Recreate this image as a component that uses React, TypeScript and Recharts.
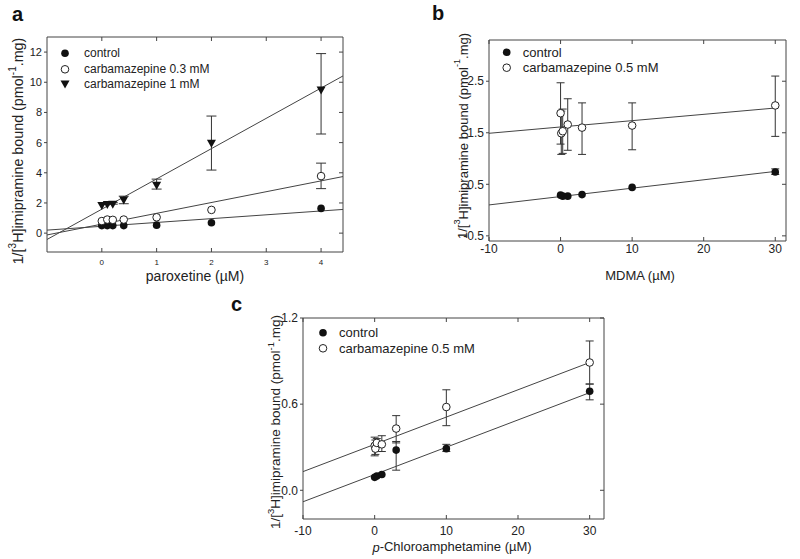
import React from 'react';
import { ScatterChart, Scatter, XAxis, YAxis, ErrorBar } from 'recharts';

// a: paroxetine
const paroxetineDose = [0, 0.1, 0.2, 0.4, 1, 2, 4];
const aControl = [0.5, 0.5, 0.5, 0.5, 0.53, 0.69, 1.64];
const aCbz03 = [0.8, 0.9, 0.88, 0.9, 1.05, 1.54, 3.78];
const aCbz03Low = [0.8, 0.9, 0.88, 0.9, 1.05, 1.54, 2.95];
const aCbz03High = [0.8, 0.9, 0.88, 0.9, 1.05, 1.54, 4.64];
const aCbz1 = [1.84, 1.9, 1.92, 2.19, 3.18, 5.95, 9.49];
const aCbz1Low = [1.84, 1.9, 1.92, 1.95, 2.92, 4.18, 6.57];
const aCbz1High = [1.84, 2.02, 2.04, 2.45, 3.58, 7.76, 11.9];
const aFitX = [-1, 4.4];
const aFitControl = [0.2, 1.57];
const aFitCbz03 = [-0.12, 3.75];
const aFitCbz1 = [-0.42, 10.42];
const aXTicks = [0, 1, 2, 3, 4];
const aYTicks = [0, 2, 4, 6, 8, 10, 12];

// b: MDMA
const mdmaControlDose = [0, 0.3, 1, 3, 10, 30];
const bControl = [0.29, 0.27, 0.27, 0.3, 0.44, 0.74];
const bControlLow = [0.29, 0.27, 0.27, 0.3, 0.44, 0.69];
const bControlHigh = [0.29, 0.27, 0.27, 0.3, 0.44, 0.8];
const mdmaCbzDose = [0, 0.1, 0.3, 1, 3, 10, 30];
const bCbz = [1.88, 1.49, 1.53, 1.66, 1.6, 1.64, 2.03];
const bCbzLow = [1.28, 1.08, 1.1, 1.16, 1.08, 1.17, 1.43];
const bCbzHigh = [2.47, 1.92, 1.96, 2.16, 2.08, 2.08, 2.6];
const bFitX = [-10, 30];
const bFitControl = [0.1, 0.75];
const bFitCbz = [1.49, 1.98];
const bXTicks = [-10, 0, 10, 20, 30];
const bYTicks = [-0.5, 0.5, 1.5, 2.5];

// c: p-chloroamphetamine
const pcaControlDose = [0, 0.3, 1, 3, 10, 30];
const cControl = [0.09, 0.1, 0.11, 0.28, 0.29, 0.69];
const cControlLow = [0.09, 0.1, 0.11, 0.14, 0.27, 0.63];
const cControlHigh = [0.09, 0.1, 0.11, 0.34, 0.32, 0.74];
const pcaCbzDose = [0, 0.1, 0.3, 1, 3, 10, 30];
const cCbz = [0.31, 0.29, 0.33, 0.32, 0.43, 0.58, 0.89];
const cCbzLow = [0.24, 0.25, 0.27, 0.27, 0.33, 0.45, 0.74];
const cCbzHigh = [0.37, 0.35, 0.36, 0.38, 0.52, 0.7, 1.04];
const cFitX = [-10, 30];
const cFitControl = [-0.08, 0.68];
const cFitCbz = [0.13, 0.89];
const cXTicks = [-10, 0, 10, 20, 30];
const cYTicks = [0, 0.6, 1.2];

const FONT = '"Liberation Sans", Arial, sans-serif';
const INK = '#222';
const AXIS = '#444';

// points; err only where an error bar is actually drawn
const pts = (xs: number[], ys: number[], lo?: number[], hi?: number[]) =>
  xs.map((x, i) => {
    const has = lo && hi && (lo[i] !== ys[i] || hi[i] !== ys[i]);
    return { x, y: ys[i], err: has ? [ys[i] - lo![i], hi![i] - ys[i]] : undefined };
  });

const Filled = (p: any) => <circle cx={p.cx} cy={p.cy} r={3.8} fill="#111" />;
const Open = (p: any) => <circle cx={p.cx} cy={p.cy} r={3.8} fill="#fff" stroke="#222" strokeWidth={1} />;
const TriDown = (p: any) => (
  <path d={`M${p.cx - 4.5},${p.cy - 3.5}L${p.cx + 4.5},${p.cy - 3.5}L${p.cx},${p.cy + 4.5}Z`} fill="#111" />
);
const NoMark = () => <g />;
const NoTick = () => <g />;

const YTitle = ({ cx, cy, size }: any) => (
  <text
    x={cx}
    y={cy}
    transform={`rotate(-90 ${cx} ${cy})`}
    textAnchor="middle"
    dominantBaseline="central"
    fontFamily={FONT}
    fontSize={size}
    fill={INK}
  >
    1/[<tspan fontSize={size * 0.7} dy={-size * 0.4}>3</tspan>
    <tspan dy={size * 0.4}>H]imipramine bound (pmol</tspan>
    <tspan fontSize={size * 0.7} dy={-size * 0.4}>-1</tspan>
    <tspan dy={size * 0.4}>.mg)</tspan>
  </text>
);

const XTitle = ({ cx, cy, size, children }: any) => (
  <text x={cx} y={cy} textAnchor="middle" dominantBaseline="central" fontFamily={FONT} fontSize={size} fill={INK}>
    {children}
  </text>
);

type Series = { data: any[]; shape: any; errors?: boolean };

const Panel = ({
  width, height, margin, xDomain, xTicks, yDomain, yTicks, yFmt, capW,
  xTickSize, yTickSize, xTickMargin, yTickMargin, fits, series, yTitle, xTitle,
}: any) => (
  <ScatterChart width={width} height={height} margin={margin}>
    <XAxis
      type="number" dataKey="x" domain={xDomain} ticks={xTicks} interval={0} allowDataOverflow
      height={30} tickSize={-4} tickMargin={xTickMargin} stroke={AXIS}
      tick={{ fontSize: xTickSize, fill: INK, fontFamily: FONT }}
      label={xTitle}
    />
    <XAxis
      xAxisId="top" orientation="top" type="number" dataKey="x" domain={xDomain} ticks={xTicks} interval={0}
      allowDataOverflow height={2} tickSize={-4} tick={NoTick} stroke={AXIS}
    />
    <YAxis
      type="number" dataKey="y" domain={yDomain} ticks={yTicks} interval={0} allowDataOverflow
      width={40} tickSize={3} tickMargin={yTickMargin} stroke={AXIS} tickFormatter={yFmt}
      tick={{ fontSize: yTickSize, fill: INK, fontFamily: FONT }}
      label={yTitle}
    />
    <YAxis
      yAxisId="right" orientation="right" type="number" dataKey="y" domain={yDomain} ticks={yTicks} interval={0}
      allowDataOverflow width={2} tickSize={-4} tick={NoTick} stroke={AXIS}
    />
    {fits.map((f: any[], i: number) => (
      <Scatter
        key={`fit-${i}`} data={f} xAxisId="top" yAxisId="right"
        line={{ stroke: '#444', strokeWidth: 1 }} shape={NoMark} isAnimationActive={false}
      />
    ))}
    {series.map((s: Series, i: number) => (
      <Scatter key={`s-${i}`} data={s.data} shape={s.shape} isAnimationActive={false}>
        {s.errors && <ErrorBar dataKey="err" direction="y" width={capW} stroke="#333" strokeWidth={1} />}
      </Scatter>
    ))}
  </ScatterChart>
);

const Sym = ({ kind, x, y }: any) =>
  kind === 'filled' ? <Filled cx={x} cy={y} /> : kind === 'open' ? <Open cx={x} cy={y} /> : <TriDown cx={x} cy={y} />;

const LegendBlock = ({ sx, tx, rows, size }: any) => (
  <g>
    {rows.map((r: any, i: number) => (
      <g key={i}>
        <Sym kind={r.kind} x={sx} y={r.y} />
        <text x={tx} y={r.y} dominantBaseline="central" fontFamily={FONT} fontSize={size} fill={INK}>
          {r.label}
        </text>
      </g>
    ))}
  </g>
);

export default function App() {
  const one = (v: number) => v.toFixed(1);
  return (
    <div style={{ position: 'absolute', left: 0, top: 0, width: 800, height: 559, background: '#fff' }}>
      <div style={{ position: 'absolute', left: 0, top: 0 }}>
        <Panel
          width={400} height={290} margin={{ top: 35, right: 55, bottom: 8, left: 7 }}
          xDomain={[-1, 4.4]} xTicks={aXTicks} yDomain={[-1.25, 13]} yTicks={aYTicks} capW={5}
          xTickSize={8} yTickSize={11} xTickMargin={11} yTickMargin={2}
          fits={[pts(aFitX, aFitControl), pts(aFitX, aFitCbz03), pts(aFitX, aFitCbz1)]}
          series={[
            { data: pts(paroxetineDose, aControl), shape: Filled },
            { data: pts(paroxetineDose, aCbz03, aCbz03Low, aCbz03High), shape: Open, errors: true },
            { data: pts(paroxetineDose, aCbz1, aCbz1Low, aCbz1High), shape: TriDown, errors: true },
          ]}
          yTitle={<YTitle cx={18} cy={151} size={14.3} />}
          xTitle={<XTitle cx={195} cy={276} size={14}>paroxetine (µM)</XTitle>}
        />
      </div>
      <div style={{ position: 'absolute', left: 400, top: 0 }}>
        <Panel
          width={400} height={290} margin={{ top: 38, right: 12, bottom: 19, left: 49 }}
          xDomain={[-10, 31.5]} xTicks={bXTicks} yDomain={[-0.6, 3.3]} yTicks={bYTicks} capW={4}
          xTickSize={12} yTickSize={12} xTickMargin={7} yTickMargin={2}
          fits={[pts(bFitX, bFitControl), pts(bFitX, bFitCbz)]}
          series={[
            { data: pts(mdmaControlDose, bControl, bControlLow, bControlHigh), shape: Filled, errors: true },
            { data: pts(mdmaCbzDose, bCbz, bCbzLow, bCbzHigh), shape: Open, errors: true },
          ]}
          yTitle={<YTitle cx={62.7} cy={136} size={13} />}
          xTitle={<XTitle cx={240} cy={275} size={13}>MDMA (µM)</XTitle>}
        />
      </div>
      <div style={{ position: 'absolute', left: 220, top: 290 }}>
        <Panel
          width={400} height={269} margin={{ top: 26, right: 14, bottom: 10, left: 43 }}
          xDomain={[-10, 32]} xTicks={cXTicks} yDomain={[-0.2, 1.2]} yTicks={cYTicks} yFmt={one} capW={4}
          xTickSize={12} yTickSize={12} xTickMargin={11} yTickMargin={2}
          fits={[pts(cFitX, cFitControl), pts(cFitX, cFitCbz)]}
          series={[
            { data: pts(pcaControlDose, cControl, cControlLow, cControlHigh), shape: Filled, errors: true },
            { data: pts(pcaCbzDose, cCbz, cCbzLow, cCbzHigh), shape: Open, errors: true },
          ]}
          yTitle={<YTitle cx={55} cy={132} size={13.5} />}
          xTitle={
            <XTitle cx={232} cy={256.7} size={13}>
              <tspan fontStyle="italic">p</tspan>-Chloroamphetamine (µM)
            </XTitle>
          }
        />
      </div>
      <svg width={800} height={559} style={{ position: 'absolute', left: 0, top: 0, pointerEvents: 'none' }}>
        <g fontFamily={FONT} fontWeight="bold" fontSize={20} fill="#111">
          <text x={12} y={21}>a</text>
          <text x={432} y={20}>b</text>
          <text x={231} y={311}>c</text>
        </g>
        <LegendBlock
          sx={65} tx={84} size={12}
          rows={[
            { kind: 'filled', y: 53.3, label: 'control' },
            { kind: 'open', y: 69.3, label: 'carbamazepine 0.3 mM' },
            { kind: 'tri', y: 84, label: 'carbamazepine 1 mM' },
          ]}
        />
        <LegendBlock
          sx={506.7} tx={522.7} size={13}
          rows={[
            { kind: 'filled', y: 52.3, label: 'control' },
            { kind: 'open', y: 67.7, label: 'carbamazepine 0.5 mM' },
          ]}
        />
        <LegendBlock
          sx={323} tx={339} size={13}
          rows={[
            { kind: 'filled', y: 332.7, label: 'control' },
            { kind: 'open', y: 348.3, label: 'carbamazepine 0.5 mM' },
          ]}
        />
      </svg>
    </div>
  );
}
